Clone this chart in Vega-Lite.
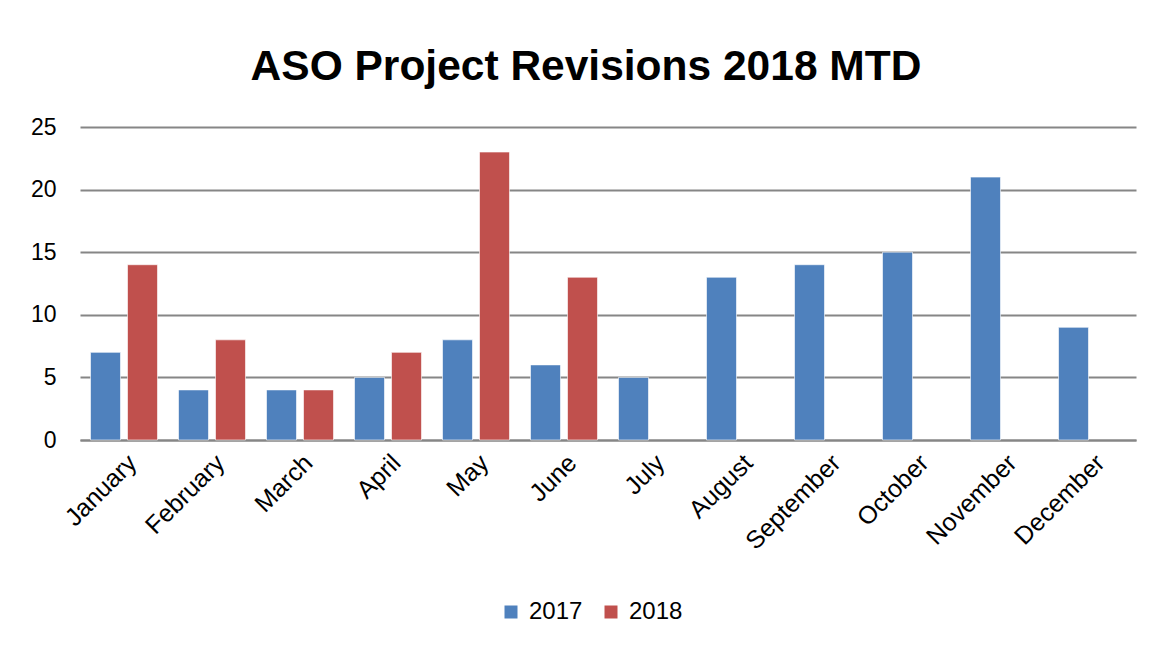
{
  "$schema": "https://vega.github.io/schema/vega-lite/v6.json",
  "width": 1056,
  "height": 313,
  "autosize": {"type": "none"},
  "padding": {"left": 80, "top": 127, "right": 22, "bottom": 208},
  "background": "white",
  "title": {
    "text": "ASO Project Revisions 2018 MTD",
    "font": "Liberation Sans",
    "fontWeight": "bold",
    "fontSize": 42.5,
    "color": "#000000",
    "anchor": "middle",
    "dx": -22,
    "offset": 28
  },
  "data": {
    "values": [
      {"month": "January", "year": "2017", "value": 7},
      {"month": "January", "year": "2018", "value": 14},
      {"month": "February", "year": "2017", "value": 4},
      {"month": "February", "year": "2018", "value": 8},
      {"month": "March", "year": "2017", "value": 4},
      {"month": "March", "year": "2018", "value": 4},
      {"month": "April", "year": "2017", "value": 5},
      {"month": "April", "year": "2018", "value": 7},
      {"month": "May", "year": "2017", "value": 8},
      {"month": "May", "year": "2018", "value": 23},
      {"month": "June", "year": "2017", "value": 6},
      {"month": "June", "year": "2018", "value": 13},
      {"month": "July", "year": "2017", "value": 5},
      {"month": "August", "year": "2017", "value": 13},
      {"month": "September", "year": "2017", "value": 14},
      {"month": "October", "year": "2017", "value": 15},
      {"month": "November", "year": "2017", "value": 21},
      {"month": "December", "year": "2017", "value": 9}
    ]
  },
  "mark": {"type": "bar", "stroke": "#ffffff", "strokeOpacity": 0.6, "strokeWidth": 1},
  "encoding": {
    "x": {
      "field": "month",
      "type": "nominal",
      "sort": ["January","February","March","April","May","June","July","August","September","October","November","December"],
      "scale": {"paddingInner": 0, "paddingOuter": 0},
      "axis": {
        "title": null,
        "labelAngle": -45,
        "labelFont": "Liberation Sans",
        "labelFontSize": 25,
        "labelColor": "#000000",
        "labelPadding": 10,
        "ticks": false,
        "domainColor": "#868686",
        "domainWidth": 2,
        "grid": false
      }
    },
    "xOffset": {
      "field": "year",
      "type": "nominal",
      "scale": {"paddingInner": 0.19, "paddingOuter": 0.284}
    },
    "y": {
      "field": "value",
      "type": "quantitative",
      "scale": {"domain": [0, 25]},
      "axis": {
        "title": null,
        "values": [0, 5, 10, 15, 20, 25],
        "labelFont": "Liberation Sans",
        "labelFontSize": 23,
        "labelColor": "#000000",
        "labelPadding": 24,
        "ticks": false,
        "domain": false,
        "gridColor": "#868686",
        "gridWidth": 2
      }
    },
    "color": {
      "field": "year",
      "type": "nominal",
      "scale": {"domain": ["2017", "2018"], "range": ["#4F81BD", "#C0504D"]},
      "legend": {
        "title": null,
        "orient": "none",
        "direction": "horizontal",
        "legendX": 419,
        "legendY": 473,
        "symbolType": "square",
        "symbolSize": 169,
        "symbolStrokeWidth": 0,
        "labelFont": "Liberation Sans",
        "labelFontSize": 24,
        "labelColor": "#000000",
        "columnPadding": 16,
        "labelOffset": 6
      }
    }
  },
  "config": {"view": {"stroke": null}}
}
